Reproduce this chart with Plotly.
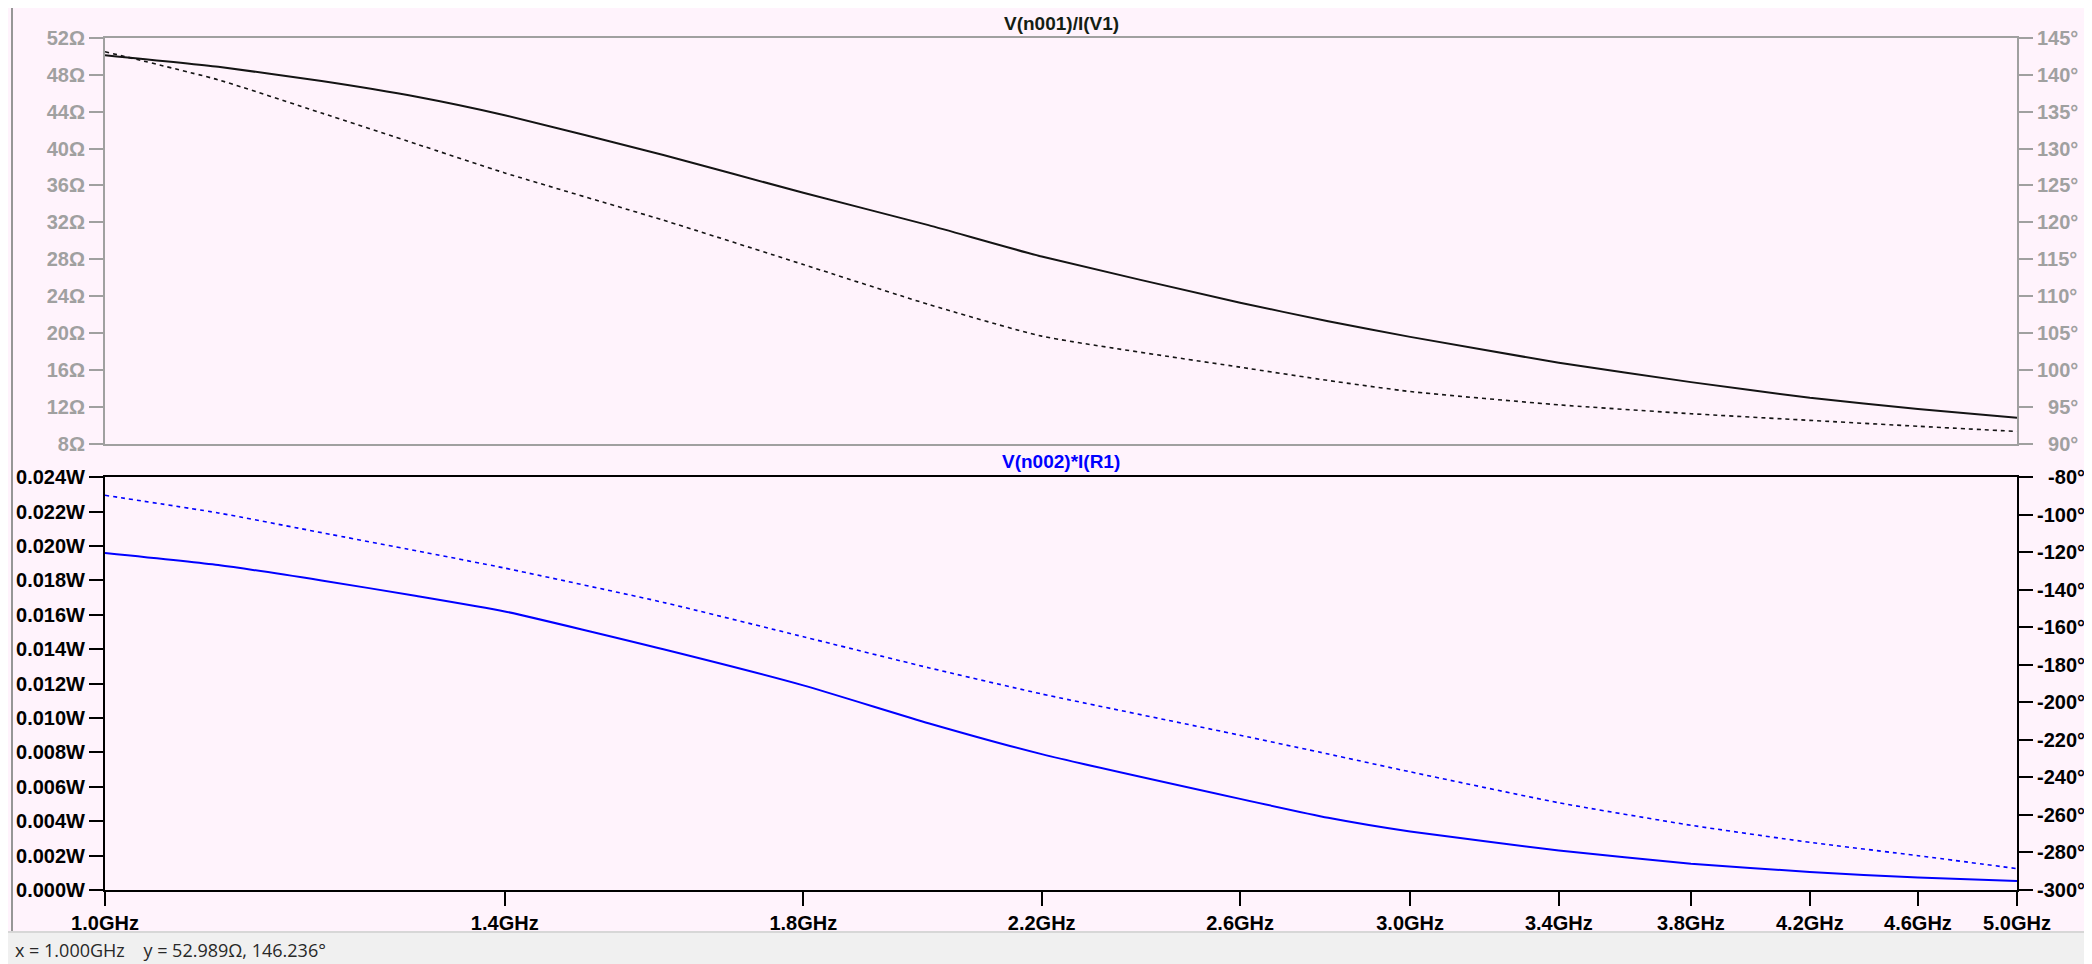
import math
import plotly.graph_objects as go

# ---- data ----
freq_ghz = [1.0, 1.1, 1.2, 1.3, 1.4, 1.6, 1.8, 2.0, 2.2, 2.6, 2.8, 3.0, 3.4, 3.8, 4.2, 4.6, 5.0]
z_mag_ohm = [50.1, 48.85, 47.3, 45.6, 43.6, 39.3, 35.2, 31.7, 28.3, 23.3, 21.3, 19.6, 16.8, 14.7, 13.0, 11.8, 10.85]
z_phase_deg = [143.1, 139.3, 134.8, 130.6, 126.7, 120.3, 114.3, 108.9, 104.6, 100.4, 98.6, 97.1, 95.3, 94.1, 93.2, 92.4, 91.7]
p_mag_w = [0.0196, 0.0189, 0.0180, 0.0171, 0.0162, 0.0140, 0.0119, 0.0097, 0.0079, 0.0053, 0.0042, 0.0034,
           0.0023, 0.00153, 0.00105, 0.00072, 0.00053]
p_phase_deg = [-89.6, -99.0, -109.5, -119.2, -128.4, -146.7, -165.0, -181.5, -195.5, -217.5, -227.5, -237.0,
               -253.5, -265.5, -274.6, -281.7, -288.6]

x_ticks = [1.0, 1.4, 1.8, 2.2, 2.6, 3.0, 3.4, 3.8, 4.2, 4.6, 5.0]
x_ticktext = ["1.0GHz", "1.4GHz", "1.8GHz", "2.2GHz", "2.6GHz", "3.0GHz", "3.4GHz", "3.8GHz", "4.2GHz", "4.6GHz", "5.0GHz"]
zmag_ticks = [8, 12, 16, 20, 24, 28, 32, 36, 40, 44, 48, 52]
zphase_ticks = [90, 95, 100, 105, 110, 115, 120, 125, 130, 135, 140, 145]
pmag_ticks = [0.000, 0.002, 0.004, 0.006, 0.008, 0.010, 0.012, 0.014, 0.016, 0.018, 0.020, 0.022, 0.024]
pphase_ticks = [-300, -280, -260, -240, -220, -200, -180, -160, -140, -120, -100, -80]
title_top = "V(n001)/I(V1)"
title_bot = "V(n002)*I(R1)"
status_text = "x = 1.000GHz    y = 52.989Ω, 146.236°"

# ---- layout geometry (reference pixels; the page body adds an 8px offset) ----
OFF = 8
W, H = 2092 - OFF, 964 - OFF
def px(x): return (x - OFF) / W
def py(y): return 1 - (y - OFF) / H

L, R = 105, 2017
TOP_T, TOP_B = 37.7, 444
BOT_T, BOT_B = 477.3, 890

PINK = "rgb(255,243,252)"
GRAY = "rgb(160,160,160)"
FONT = "Liberation Sans"

fig = go.Figure()

sm = 0.5
fig.add_trace(go.Scatter(x=freq_ghz, y=z_mag_ohm, mode="lines", xaxis="x2", yaxis="y3",
                         line=dict(color="rgb(20,20,20)", width=2, shape="spline", smoothing=sm),
                         showlegend=False, hoverinfo="skip"))
fig.add_trace(go.Scatter(x=freq_ghz, y=z_phase_deg, mode="lines", xaxis="x2", yaxis="y4",
                         line=dict(color="rgb(20,20,20)", width=1.6, dash="4px,4px", shape="spline", smoothing=sm),
                         showlegend=False, hoverinfo="skip"))
fig.add_trace(go.Scatter(x=freq_ghz, y=p_mag_w, mode="lines", xaxis="x", yaxis="y",
                         line=dict(color="rgb(0,0,255)", width=2, shape="spline", smoothing=sm),
                         showlegend=False, hoverinfo="skip"))
fig.add_trace(go.Scatter(x=freq_ghz, y=p_phase_deg, mode="lines", xaxis="x", yaxis="y2",
                         line=dict(color="rgb(0,0,255)", width=1.6, dash="4px,4px", shape="spline", smoothing=sm),
                         showlegend=False, hoverinfo="skip"))

xr = [0, math.log10(5.0)]
xdom = [px(L), px(R)]
tickfont_b = dict(family=FONT, size=20, color="black", weight="bold")
tickfont_g = dict(family=FONT, size=20, color=GRAY, weight="bold")

def pad_labels(labels):
    n = max(len(s) for s in labels)
    return ["\u2007" * (n - len(s)) + s for s in labels]

common = dict(showgrid=False, zeroline=False, automargin=False)

fig.update_layout(
    template="none",
    width=W, height=H,
    margin=dict(l=0, r=0, t=0, b=0, pad=0),
    paper_bgcolor=PINK, plot_bgcolor=PINK,
    font=dict(family=FONT),
    xaxis=dict(type="log", range=xr, domain=xdom, anchor="y",
               tickmode="array", tickvals=x_ticks, ticktext=x_ticktext,
               ticks="outside", ticklen=14, tickwidth=1.5, tickcolor="black",
               showline=True, linecolor="black", linewidth=2, mirror=True,
               tickfont=tickfont_b, **common),
    xaxis2=dict(type="log", range=xr, domain=xdom, anchor="y3", matches="x",
                showticklabels=False, ticks="",
                showline=True, linecolor=GRAY, linewidth=2, mirror=True, **common),
    yaxis=dict(domain=[py(BOT_B), py(BOT_T)], range=[0, 0.024], anchor="x",
               tickmode="array", tickvals=pmag_ticks,
               ticktext=[f"{v:.3f}W" for v in pmag_ticks],
               ticks="outside", ticklen=14, tickwidth=1.5, tickcolor="black",
               showline=True, linecolor="black", linewidth=2,
               tickfont=tickfont_b, **common),
    yaxis2=dict(domain=[py(BOT_B), py(BOT_T)], range=[-300, -80], anchor="x",
                overlaying="y", side="right",
                tickmode="array", tickvals=pphase_ticks,
                ticktext=pad_labels([f"{v}°" for v in pphase_ticks]),
                ticks="outside", ticklen=14, tickwidth=1.5, tickcolor="black",
                showline=True, linecolor="black", linewidth=2,
                tickfont=tickfont_b, **common),
    yaxis3=dict(domain=[py(TOP_B), py(TOP_T)], range=[8, 52], anchor="x2",
                tickmode="array", tickvals=zmag_ticks,
                ticktext=[f"{v}Ω" for v in zmag_ticks],
                ticks="outside", ticklen=14, tickwidth=1.5, tickcolor=GRAY,
                showline=True, linecolor=GRAY, linewidth=2,
                tickfont=tickfont_g, **common),
    yaxis4=dict(domain=[py(TOP_B), py(TOP_T)], range=[90, 145], anchor="x2",
                overlaying="y3", side="right",
                tickmode="array", tickvals=zphase_ticks,
                ticktext=pad_labels([f"{v}°" for v in zphase_ticks]),
                ticks="outside", ticklen=14, tickwidth=1.5, tickcolor=GRAY,
                showline=True, linecolor=GRAY, linewidth=2,
                tickfont=tickfont_g, **common),
)

shapes = [
    dict(type="rect", xref="paper", yref="paper", x0=px(11), x1=px(13), y0=py(932), y1=1,
         fillcolor="rgb(150,150,150)", line=dict(width=0), layer="below"),
    dict(type="rect", xref="paper", yref="paper", x0=0, x1=1, y0=0, y1=py(932),
         fillcolor="rgb(240,240,240)", line=dict(width=0), layer="below"),
    dict(type="line", xref="paper", yref="paper", x0=0, x1=1, y0=py(932), y1=py(932),
         line=dict(color="rgb(215,215,215)", width=2)),
]
fig.update_layout(shapes=shapes)

fig.add_annotation(text=f"<b>{title_top}</b>", xref="paper", yref="paper",
                   x=px((L + R) / 2), y=py(23), xanchor="center", yanchor="middle",
                   showarrow=False, font=dict(family=FONT, size=19, color="rgb(20,30,20)"))
fig.add_annotation(text=f"<b>{title_bot}</b>", xref="paper", yref="paper",
                   x=px((L + R) / 2), y=py(461), xanchor="center", yanchor="middle",
                   showarrow=False, font=dict(family=FONT, size=19, color="rgb(0,0,255)"))
fig.add_annotation(text=status_text, xref="paper", yref="paper",
                   x=px(13), y=py(950), xanchor="left", yanchor="middle",
                   showarrow=False, font=dict(family="Open Sans", size=18, color="rgb(40,40,40)"))

fig.write_html("out.html")
